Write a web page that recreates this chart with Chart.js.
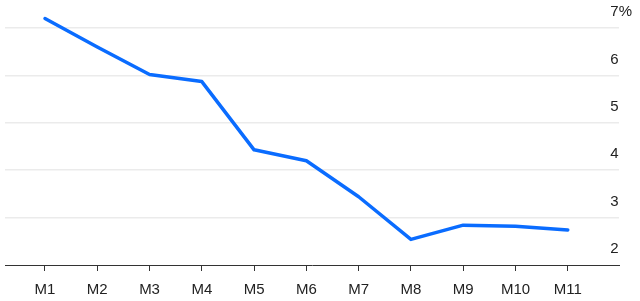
<!DOCTYPE html>
<html>
<head>
<meta charset="utf-8">
<script src="https://cdn.jsdelivr.net/npm/chart.js@4/dist/chart.umd.min.js"></script>
<style>
  html, body { margin: 0; padding: 0; background: #fff; }
  #wrap { width: 640px; height: 301px; }
</style>
</head>
<body>
<div id="wrap"><canvas id="myChart"></canvas></div>
<script>
const categories = ['M1', 'M2', 'M3', 'M4', 'M5', 'M6', 'M7', 'M8', 'M9', 'M10', 'M11'];
const rates = [7.2, 6.6, 6.02, 5.87, 4.43, 4.2, 3.44, 2.54, 2.84, 2.82, 2.74];
const yTicks = [2, 3, 4, 5, 6, 7];

Chart.defaults.font.family = "'Liberation Sans', Arial, sans-serif";
Chart.defaults.font.size = 15;
Chart.defaults.color = '#222';

const ctx = document.getElementById('myChart');

const chart = new Chart(ctx, {
  type: 'line',
  data: {
    datasets: [{
      label: 'Rate',
      data: rates.map((v, i) => ({ x: i + 1, y: v })),
      borderColor: '#0a6cff',
      borderWidth: 3.5,
      borderCapStyle: 'round',
      borderJoinStyle: 'round',
      pointRadius: 0,
      tension: 0,
      fill: false,
      clip: false
    }]
  },
  options: {
    responsive: true,
    maintainAspectRatio: false,
    animation: false,
    layout: { padding: { top: 28, left: 5, right: 0, bottom: 0 } },
    plugins: {
      legend: { display: false },
      tooltip: { enabled: false }
    },
    scales: {
      x: {
        type: 'linear',
        min: 0.235,
        max: 11.98,
        afterBuildTicks: (scale) => {
          scale.ticks = categories.map((c, i) => ({ value: i + 1 }));
        },
        afterFit: (scale) => { scale.height = 36; },
        ticks: {
          padding: 10,
          maxRotation: 0,
          autoSkip: false,
          callback: (v) => categories[v - 1]
        },
        grid: {
          drawOnChartArea: false,
          drawTicks: true,
          tickLength: 6,
          color: '#333'
        },
        border: { display: true, color: '#333', width: 1 }
      },
      y: {
        position: 'right',
        min: 2,
        max: 7,
        afterBuildTicks: (scale) => {
          scale.ticks = yTicks.map(v => ({ value: v }));
        },
        afterFit: (scale) => { scale.width = 21; },
        ticks: {
          mirror: true,
          crossAlign: 'far',
          padding: 13,
          labelOffset: -16,
          callback: (v) => v === yTicks[yTicks.length - 1] ? v + '%' : '' + v
        },
        grid: {
          drawTicks: false,
          lineWidth: 1.5,
          color: (c) => c.tick && c.tick.value === yTicks[0] ? 'rgba(0,0,0,0)' : '#ebebeb'
        },
        border: { display: false }
      }
    }
  }
});
</script>
</body>
</html>
